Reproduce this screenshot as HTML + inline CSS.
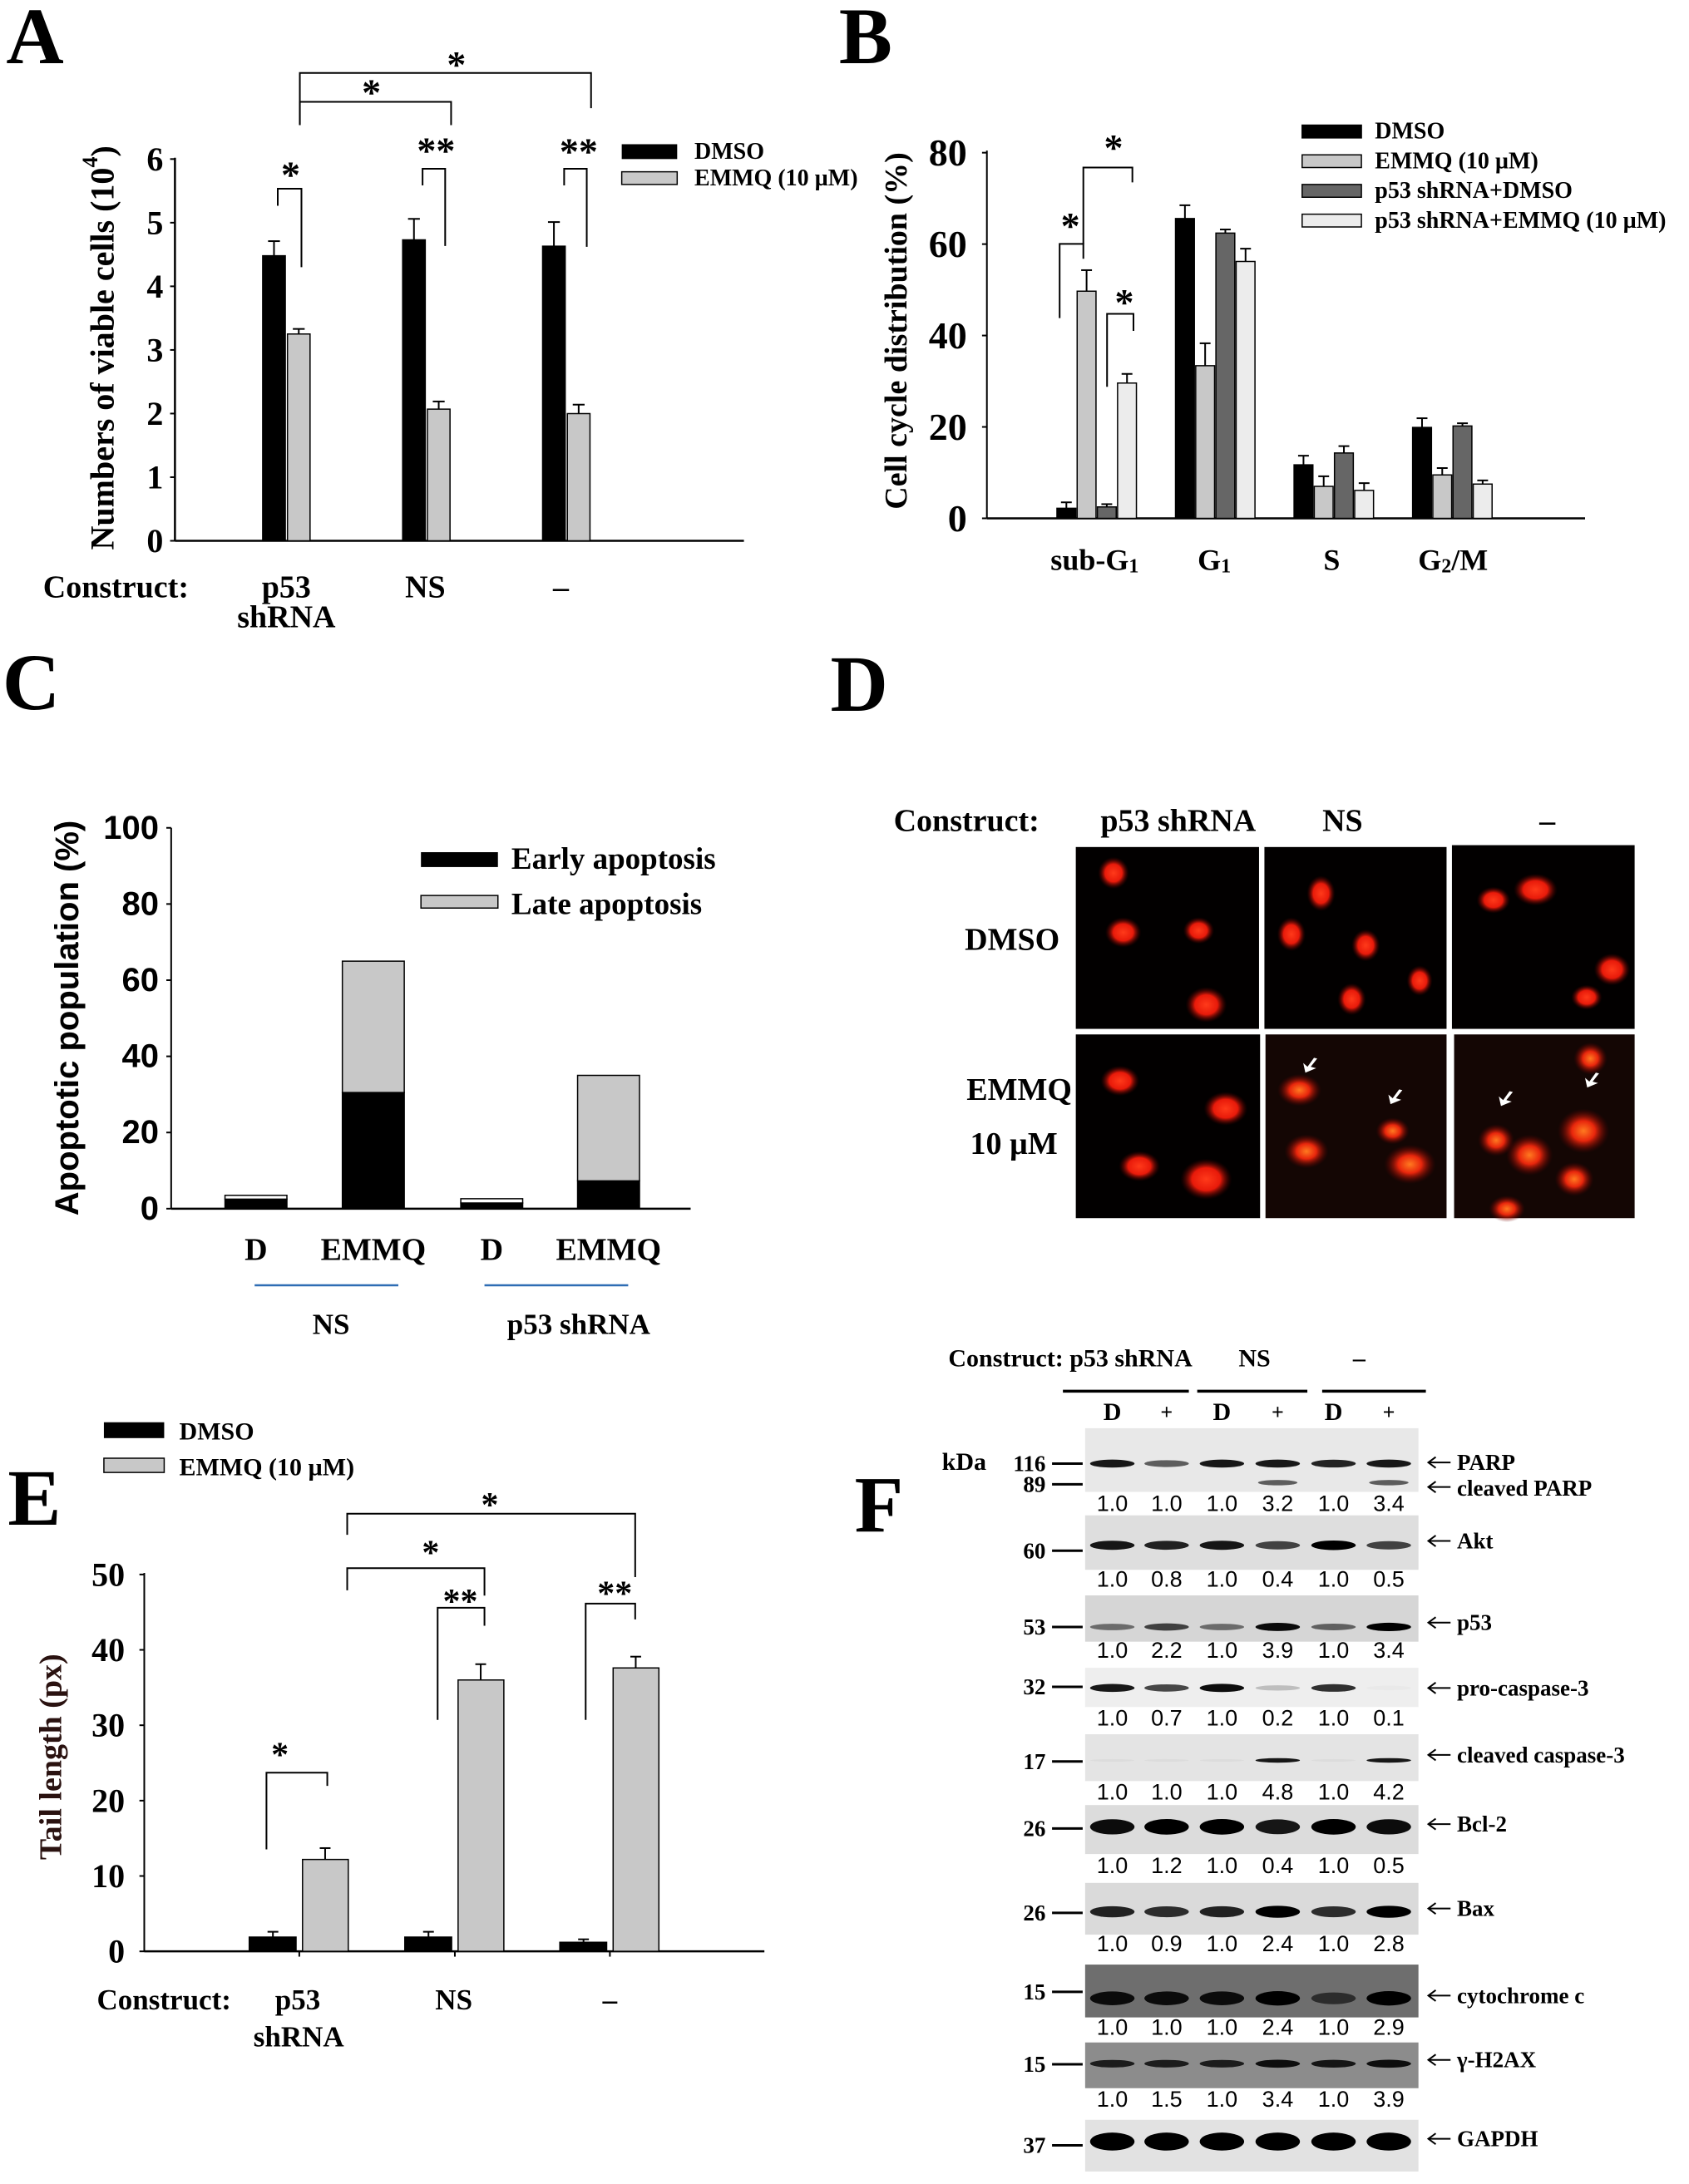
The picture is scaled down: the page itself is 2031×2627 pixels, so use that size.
<!DOCTYPE html>
<html><head><meta charset="utf-8"><style>
html,body{margin:0;padding:0;background:#fff;}
svg{display:block;}
text{font-family:"Liberation Serif",serif;font-weight:bold;fill:#000;}
.sans{font-family:"Liberation Sans",sans-serif;}
#fig line,#fig rect,#fig polyline{vector-effect:non-scaling-stroke;}
</style></head><body>
<svg id="fig" width="2031" height="2627" viewBox="0 0 2031 2627" xmlns="http://www.w3.org/2000/svg">
<rect width="2031" height="2627" fill="#fff"/>
<g id="pA" transform="translate(0,0) scale(0.6473,0.5102)"></g>
<g id="pB" transform="translate(1015,0) scale(0.648,0.5102)"></g>
<g id="pC" transform="translate(0,780) scale(0.6473,0.5421)"></g>
<g id="pD" transform="translate(1015,780) scale(0.648,0.4464)"></g>
<g id="pE" transform="translate(0,1630) scale(0.6473,0.6358)"></g>
<g id="pF" transform="translate(1100,1600) scale(0.5938,0.655)"></g>
</svg>
<script>
// Panel A data
const aCats = ["p53 shRNA","NS","–"];
const aDmso = [4.48, 4.73, 4.63];
const aDmsoErr = [0.23, 0.33, 0.38];
const aEmmq = [3.25, 2.07, 2.00];
const aEmmqErr = [0.08, 0.12, 0.14];
const aTicks = [0,1,2,3,4,5,6];
// Panel B data
const bCats = ["sub-G1","G1","S","G2/M"];
const bSeriesNames = ["DMSO","EMMQ (10 µM)","p53 shRNA+DMSO","p53 shRNA+EMMQ (10 µM)"];
const bDmso = [2.2, 65.6, 11.7, 19.9];
const bEmmq = [49.7, 33.4, 7.0, 9.5];
const bShD = [2.5, 62.4, 14.3, 20.2];
const bShE = [29.6, 56.2, 6.1, 7.5];
const bDmsoErr = [1.3, 2.9, 2.0, 2.0];
const bEmmqErr = [4.6, 4.9, 2.2, 1.5];
const bShDErr = [0.6, 0.8, 1.5, 0.6];
const bShEErr = [2.0, 2.8, 1.6, 0.8];
const bTicks = [0,20,40,60,80];
// Panel C data
const cCats = ["D","EMMQ","D","EMMQ"];
const cEarly = [2.5, 30.5, 1.5, 7.3];
const cLate = [1.0, 34.5, 1.1, 27.7];
const cTicks = [0,20,40,60,80,100];
// Panel E data
const eCats = ["p53 shRNA","NS","–"];
const eDmso = [1.9, 1.9, 1.2];
const eDmsoErr = [0.7, 0.7, 0.4];
const eEmmq = [12.2, 36.0, 37.6];
const eEmmqErr = [1.5, 2.1, 1.5];
const eTicks = [0,10,20,30,40,50];
// Panel F data
const fProteins = ["PARP","Akt","p53","pro-caspase-3","cleaved caspase-3","Bcl-2","Bax","cytochrome c","γ-H2AX","GAPDH"];
const fMarkers = ["116","60","53","32","17","26","26","15","15","37"];
const fRatios = [
 ["1.0","1.0","1.0","3.2","1.0","3.4"],
 ["1.0","0.8","1.0","0.4","1.0","0.5"],
 ["1.0","2.2","1.0","3.9","1.0","3.4"],
 ["1.0","0.7","1.0","0.2","1.0","0.1"],
 ["1.0","1.0","1.0","4.8","1.0","4.2"],
 ["1.0","1.2","1.0","0.4","1.0","0.5"],
 ["1.0","0.9","1.0","2.4","1.0","2.8"],
 ["1.0","1.0","1.0","2.4","1.0","2.9"],
 ["1.0","1.5","1.0","3.4","1.0","3.9"],
 null];
const fLanes = ["D","+","D","+","D","+"];

const NS="http://www.w3.org/2000/svg";
function mk(parent,tag,attrs,txt){const e=document.createElementNS(NS,tag);for(const k in attrs)e.setAttribute(k,attrs[k]);if(txt!==undefined)e.textContent=txt;parent.appendChild(e);return e;}
function line(p,x1,y1,x2,y2,w){return mk(p,'line',{x1,y1,x2,y2,stroke:'#000','stroke-width':w||2});}
function txt(p,x,y,s,size,anchor,cls,rot){
 const t=`translate(${x},${y}) scale(${1/p._sx},${1/p._sy})`+(rot?` rotate(${rot})`:'');
 return mk(p,'text',{x:0,y:0,'font-size':size,'text-anchor':anchor||'middle','dominant-baseline':'central',class:cls||'',transform:t},s);}
function bracket(p,x1,y1a,x2,y2a,ytop,star,sx,sy,fs){mk(p,'polyline',{points:`${x1},${y1a} ${x1},${ytop} ${x2},${ytop} ${x2},${y2a}`,fill:'none',stroke:'#000','stroke-width':2});const t=txt(p,sx,sy,star,fs||46);}
function errbar(p,cx,yTop,yErr,cap){line(p,cx,yTop,cx,yErr,2);line(p,cx-cap,yErr,cx+cap,yErr,2);}
function setS(g){const m=g.getAttribute('transform').match(/scale\(([\d.]+),([\d.]+)\)/);g._sx=+m[1];g._sy=+m[2];}

// ---------- Panel A ----------
(function(){
 const g=document.getElementById('pA');setS(g);
 const y=v=>1275-v*150; const centers=[532,792,1052]; const bw=42;
 let t=txt(g,65,85,'A',96);
 line(g,325,1275,1382,1275,2.5);line(g,325,372,325,1275,2.5);
 aTicks.forEach(v=>{line(g,316,y(v),325,y(v),2);const tt=txt(g,288,y(v),String(v),40,'middle');});
 const yl=txt(g,190,820,'Numbers of viable cells (10',40,'middle','',-90);
 mk(yl,'tspan',{'baseline-shift':'super','font-size':26},'4');mk(yl,'tspan',{},')');
 
 aCats.forEach((c,i)=>{
  const cx=centers[i];
  const r1=mk(g,'rect',{x:cx-44,y:y(aDmso[i]),width:bw,height:y(0)-y(aDmso[i]),fill:'#000',stroke:'#000','stroke-width':1.5});
  
  errbar(g,cx-23,y(aDmso[i]),y(aDmso[i]+aDmsoErr[i]),11);
  const r2=mk(g,'rect',{x:cx+2,y:y(aEmmq[i]),width:bw,height:y(0)-y(aEmmq[i]),fill:'#c8c8c8',stroke:'#000','stroke-width':1.5});
  
  errbar(g,cx+23,y(aEmmq[i]),y(aEmmq[i]+aEmmqErr[i]),11);
 });
 const cl=txt(g,80,1385,'Construct:',38,'start');
 txt(g,532,1385,'p53',38);txt(g,532,1455,'shRNA',38);txt(g,790,1385,'NS',38);txt(g,1042,1385,'–',38);
 let lr=mk(g,'rect',{x:1155,y:340,width:103,height:35,fill:'#000'});
 lr=mk(g,'rect',{x:1155,y:405,width:103,height:30,fill:'#c8c8c8',stroke:'#000','stroke-width':1.5});
 let lt=txt(g,1290,358,'DMSO',28,'start');
 lt=txt(g,1290,420,'EMMQ (10 µM)',28,'start');
 bracket(g,557,295,1098,255,172,'*',848,152);
 bracket(g,557,295,838,295,240,'*',690,218);
 bracket(g,516,485,560,630,445,'*',540,412);
 bracket(g,785,437,827,580,398,'**',810,355);
 bracket(g,1048,437,1090,582,398,'**',1075,357);
})();

// ---------- Panel B ----------
(function(){
 const g=document.getElementById('pB');setS(g);
 const y=v=>1222-v*10.775; const starts=[395,615,835,1055]; const bw=35, step=37.5;
 let t=txt(g,40,85,'B',96);
 line(g,265,1222,1375,1222,2.5);line(g,265,355,265,1222,2);
 bTicks.forEach(v=>{line(g,256,y(v),265,y(v),2);const tt=txt(g,228,y(v),String(v),46,'end');});
 const yl=txt(g,97,780,'Cell cycle distribution (%)',38,'middle','',-90);
 
 const series=[bDmso,bEmmq,bShD,bShE], errs=[bDmsoErr,bEmmqErr,bShDErr,bShEErr], fills=['#000','#c8c8c8','#666','#ececec'];
 bCats.forEach((c,i)=>{
  series.forEach((s,j)=>{
   const x=starts[i]+j*step;
   const r=mk(g,'rect',{x,y:y(s[i]),width:bw,height:y(0)-y(s[i]),fill:fills[j],stroke:'#000','stroke-width':1.5});
   
   errbar(g,x+bw/2,y(s[i]),y(s[i]+errs[j][i]),10);
  });
 });
 const xl=[[465,'sub-G','1'],[687,'G','1'],[905,'S',''],[1130,'G','2','/M']];
 xl.forEach(a=>{const e=txt(g,a[0],1320,a[1],36);if(a[2])mk(e,'tspan',{'font-size':24,dy:8},a[2]);if(a[3])mk(e,'tspan',{dy:-8},a[3]);});
 const ly=[310,380,450,520];
 bSeriesNames.forEach((n,j)=>{
  const r=mk(g,'rect',{x:850,y:ly[j]-15,width:110,height:30,fill:fills[j],stroke:'#000','stroke-width':1.5});
  
  const e=txt(g,985,ly[j],n,28,'start');
 });
 bracket(g,400,750,444,610,575,'*',420,532);
 bracket(g,444,575,535,430,395,'*',500,348);
 bracket(g,488,912,537,780,740,'*',520,712);
})();

// ---------- Panel C ----------
(function(){
 const g=document.getElementById('pC');setS(g);
 const y=v=>1243-v*8.45; const lefts=[418,636,856,1073]; const bw=115;
 let t=txt(g,58,75,'C',96);
 line(g,318,1243,1283,1243,2.5);line(g,318,398,318,1243,2);
 cTicks.forEach(v=>{line(g,309,y(v),318,y(v),2);const tt=txt(g,295,y(v),String(v),40,'end','sans');});
 const yl=txt(g,125,820,'Apoptotic population (%)',40,'middle','sans',-90);
 
 cCats.forEach((c,i)=>{
  const x=lefts[i];
  const r1=mk(g,'rect',{x,y:y(cEarly[i]),width:bw,height:y(0)-y(cEarly[i]),fill:'#000',stroke:'#000','stroke-width':1.5});
  
  const top=cEarly[i]+cLate[i];
  const r2=mk(g,'rect',{x,y:y(top),width:bw,height:y(cEarly[i])-y(top),fill:i%2===0?'#fff':'#c8c8c8',stroke:'#000','stroke-width':1.5});
  
  const xt=txt(g,x+bw/2,1335,c,38);
 });
 mk(g,'line',{x1:473,y1:1413,x2:740,y2:1413,stroke:'#2e6db4','stroke-width':2.5});
 mk(g,'line',{x1:900,y1:1413,x2:1167,y2:1413,stroke:'#2e6db4','stroke-width':2.5});
 txt(g,615,1500,'NS',35);txt(g,1075,1500,'p53 shRNA',35);
 let r=mk(g,'rect',{x:782,y:452,width:143,height:33,fill:'#000'});
 r=mk(g,'rect',{x:782,y:548,width:143,height:28,fill:'#c8c8c8',stroke:'#000','stroke-width':1.5});
 let e=txt(g,950,468,'Early apoptosis',37,'start');
 e=txt(g,950,568,'Late apoptosis',37,'start');
})();

// ---------- Panel D ----------
(function(){
 const g=document.getElementById('pD');setS(g);
 let t=txt(g,28,95,'D',96);
 const defs=mk(g,'defs',{});
 const rg=mk(defs,'radialGradient',{id:'cell'});
 mk(rg,'stop',{offset:'0%','stop-color':'#ff3a1a'});mk(rg,'stop',{offset:'55%','stop-color':'#e81a0a'});mk(rg,'stop',{offset:'100%','stop-color':'#500000','stop-opacity':0});
 const rg2=mk(defs,'radialGradient',{id:'cell2'});
 mk(rg2,'stop',{offset:'0%','stop-color':'#ff7a20'});mk(rg2,'stop',{offset:'45%','stop-color':'#e8260c'});mk(rg2,'stop',{offset:'100%','stop-color':'#600000','stop-opacity':0});
 let e=txt(g,92,465,'Construct:',38,'start');
 txt(g,620,465,'p53 shRNA',38);txt(g,925,465,'NS',38);txt(g,1305,465,'–',38);
 txt(g,312,785,'DMSO',38);txt(g,325,1190,'EMMQ',38);txt(g,315,1335,'10 µM',38);
 const boxes=[[430,535,340,490],[780,535,338,490],[1128,530,339,495],[430,1040,342,495],[782,1040,336,495],[1132,1040,335,495]];
 boxes.forEach((b,i)=>{const r=mk(g,'rect',{x:b[0],y:b[1],width:b[2],height:b[3],fill:i>=4?'#140604':'#020000'});});
 const cells=[[500,605,24,36],[518,765,28,34],[658,760,24,30],[672,960,32,40],[885,660,22,40],[830,770,22,38],[968,800,22,36],[1068,895,20,34],[942,945,22,36],
  [1205,678,26,30],[1283,650,34,36],[1425,865,28,36],[1378,940,24,28],
  [512,1165,30,34],[708,1240,34,38],[548,1395,32,34],[672,1430,40,46],
  [845,1190,34,36],[1018,1300,26,30],[858,1355,34,38],[1050,1390,40,44],
  [1385,1105,26,36],[1210,1325,28,36],[1272,1365,36,46],[1372,1300,40,50],[1355,1430,30,38],[1230,1510,28,30]];
 cells.forEach((c,i)=>{const el=mk(g,'ellipse',{cx:c[0],cy:c[1],rx:c[2]*1.2,ry:c[3]*1.2,fill:(c[1]>1040&&c[0]>780)?'url(#cell2)':'url(#cell)'});});
 [[862,1125],[1020,1210],[1225,1215],[1385,1165]].forEach(a=>{const p=mk(g,'path',{d:`M${a[0]+10},${a[1]-22} L${a[0]-2},${a[1]+2} L${a[0]-10},${a[1]-8} L${a[0]-6},${a[1]+18} L${a[0]+14},${a[1]+6} L${a[0]+4},${a[1]+2} L${a[0]+16},${a[1]-20} Z`,fill:'#fff'});});
})();

// ---------- Panel E ----------
(function(){
 const g=document.getElementById('pE');setS(g);
 const y=v=>1128-v*14.26; const centers=[556,845,1133];
 let t=txt(g,64,270,'E',96);
 line(g,268,1128,1420,1128,2.5);line(g,268,412,268,1128,2);
 eTicks.forEach(v=>{line(g,259,y(v),268,y(v),2);const tt=txt(g,232,y(v),String(v),40,'end');});
 centers.forEach(c=>line(g,c,1128,c,1138,2));
 const yl=txt(g,95,760,'Tail length (px)',38,'middle','',-90);yl.style.fill='#2a1210';
 
 eCats.forEach((c,i)=>{
  const cx=centers[i];
  const r1=mk(g,'rect',{x:cx-93,y:y(eDmso[i]),width:87,height:y(0)-y(eDmso[i]),fill:'#000',stroke:'#000','stroke-width':1.5});
  
  errbar(g,cx-49,y(eDmso[i]),y(eDmso[i]+eDmsoErr[i]),10);
  const r2=mk(g,'rect',{x:cx+6,y:y(eEmmq[i]),width:85,height:y(0)-y(eEmmq[i]),fill:'#c8c8c8',stroke:'#000','stroke-width':1.5});
  
  errbar(g,cx+48,y(eEmmq[i]),y(eEmmq[i]+eEmmqErr[i]),10);
 });
 let e=txt(g,180,1220,'Construct:',35,'start');
 txt(g,553,1220,'p53',35);txt(g,555,1290,'shRNA',35);txt(g,843,1220,'NS',35);txt(g,1133,1220,'–',35);
 let r=mk(g,'rect',{x:193,y:127,width:112,height:30,fill:'#000'});
 r=mk(g,'rect',{x:193,y:195,width:112,height:27,fill:'#c8c8c8',stroke:'#000','stroke-width':1.5});
 e=txt(g,333,145,'DMSO',30,'start');
 e=txt(g,333,212,'EMMQ (10 µM)',30,'start');
 bracket(g,645,340,1180,420,300,'*',910,285,42);
 bracket(g,645,445,900,455,403,'*',800,375,42);
 bracket(g,813,690,900,512,478,'**',855,467,42);
 bracket(g,1088,690,1180,500,470,'**',1142,452,42);
 bracket(g,495,935,608,815,790,'*',520,757,42);
})();

// ---------- Panel F ----------
(function(){
 const g=document.getElementById('pF');setS(g);
 const lanes=[400,510,622,735,848,960];
 let e=txt(g,68,52,'Construct: p53 shRNA',30,'start');
 txt(g,688,52,'NS',30);txt(g,900,52,'–',30);
 [[300,555],[572,795],[825,1035]].forEach(s=>line(g,s[0],112,s[1],112,3.5));
 fLanes.forEach((l,i)=>{const x=txt(g,lanes[i],150,l,l==='D'?30:26);});
 txt(g,55,242,'kDa',30,'start');
 const rows=[[180,297,245,318,245,243,'#e8e8e8'],[340,440,395,457,405,387,'#dedede'],[487,572,545,588,545,537,'#d6d6d6'],[620,692,657,712,655,657,'#eeeeee'],[742,828,790,848,792,780,'#e4e4e4'],[872,962,912,983,915,907,'#dcdcdc'],[1015,1110,1068,1127,1070,1062,'#dadada'],[1165,1262,1227,1280,1215,1222,'#6e6e6e'],[1308,1392,1347,1412,1348,1340,'#8c8c8c'],[1450,1545,1490,null,1497,1485,'#e2e2e2']];
 const bandDark=[[.9,.6,.9,.9,.85,.9],[.9,.85,.9,.7,1,.7],[.5,.7,.5,.95,.55,1],[.9,.7,.95,.2,.8,.02],[.03,.03,.03,.9,.03,.9],[.95,1,1,.9,1,.95],[.85,.8,.85,1,.8,1],[.9,.9,.9,1,.6,1],[.8,.8,.8,.9,.85,.9],[1,1,1,1,1,1]];
 const bandH=[14,16,14,14,8,26,20,24,14,30];
 rows.forEach((r,i)=>{
  const bx=mk(g,'rect',{x:345,y:r[0],width:675,height:r[1]-r[0],fill:r[6]});
  lanes.forEach((lx,j)=>{const d=bandDark[i][j];const b=mk(g,'ellipse',{cx:lx,cy:r[2],rx:45,ry:bandH[i]/2*(0.6+0.5*d),fill:'#000','fill-opacity':d});});
  if(i===0){lanes.forEach((lx,j)=>{if(j===3||j===5)mk(g,'ellipse',{cx:lx,cy:280,rx:40,ry:5,fill:'#000','fill-opacity':0.6});});}
  const m=txt(g,265,r[4],fMarkers[i],27,'end');
  line(g,278,r[4],340,r[4],3);
  const arrX=1040;
  line(g,arrX,r[5],arrX+45,r[5],2);mk(g,'polyline',{points:`${arrX+15},${r[5]-10} ${arrX},${r[5]} ${arrX+15},${r[5]+10}`,fill:'none',stroke:'#000','stroke-width':2});
  const lbl=txt(g,arrX+58,r[5],fProteins[i],27,'start');
  if(fRatios[i]){fRatios[i].forEach((v,j)=>{const n=txt(g,lanes[j],r[3],v,27,'middle','sans');n.style.fontWeight='normal';});}
 });
 txt(g,265,283,'89',27,'end');line(g,278,283,340,283,3);
 line(g,1040,288,1085,288,2);mk(g,'polyline',{points:`1055,278 1040,288 1055,298`,fill:'none',stroke:'#000','stroke-width':2});
 txt(g,1098,290,'cleaved PARP',27,'start');
 let f=mk(document.getElementById('fig'),'text',{x:1057,y:1810,'font-size':96,'text-anchor':'middle','dominant-baseline':'central'},'F');
 
})();
</script>
</body></html>
